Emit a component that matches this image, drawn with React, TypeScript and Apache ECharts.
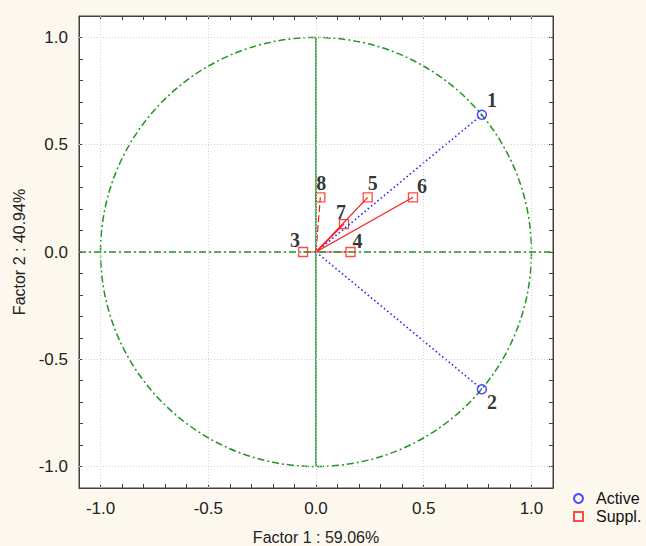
import React, { useEffect, useRef } from "react";
import * as echarts from "echarts";

const activeNames = ["1", "2"];
const activeX = [0.77, 0.77];
const activeY = [0.64, -0.64];

const supplNames = ["3", "4", "5", "6", "7", "8"];
const supplX = [-0.06, 0.16, 0.24, 0.45, 0.13, 0.02];
const supplY = [0.0, 0.0, 0.255, 0.255, 0.13, 0.255];

const majorTicks = [-1.0, -0.5, 0.0, 0.5, 1.0];
const minorTicks = [-1.0, -0.9, -0.8, -0.7, -0.6, -0.5, -0.4, -0.3, -0.2, -0.1, 0.0, 0.1, 0.2, 0.3, 0.4, 0.5, 0.6, 0.7, 0.8, 0.9, 1.0];

const xTitle = "Factor 1 : 59.06%";
const yTitle = "Factor 2 : 40.94%";

// styling (not data)
const activeLabelOffsets = [[10, -15], [10, 13]];
const supplLabelOffsets = [[-8, -12], [7, -11], [5, -14], [9, -11], [-3, -12], [1, -14]];
const supplLineTypes: any[] = ["solid", "solid", "solid", "solid", "solid", [7, 3]];

const GREEN = "#1f961f";
const FRAME = "#404040";
const SANS = "Liberation Sans, Arial, sans-serif";
const SERIF = "Liberation Serif, Times New Roman, serif";

export default function App() {
  const ref = useRef<HTMLDivElement>(null);
  useEffect(() => {
    if (!ref.current) return;
    const chart = echarts.init(ref.current, undefined, { renderer: "svg" });

    const axisCommon = {
      type: "value" as const,
      min: -1.1,
      max: 1.1,
      axisLine: { show: true, onZero: false, lineStyle: { color: FRAME, width: 1 } },
      axisTick: { show: true, inside: true, length: 4, customValues: minorTicks, lineStyle: { color: FRAME } },
      splitLine: { show: false },
    };

    const labelStyle = (offsets: number[][], i: number) => ({
      show: true,
      position: "inside",
      offset: offsets[i],
      formatter: "{b}",
      fontFamily: SERIF,
      fontWeight: "bold",
      fontSize: 20,
      color: "#000",
    });

    const series: any[] = [];

    // grid lines + green horizontal axis
    series.push({
      type: "line",
      data: [],
      silent: true,
      markLine: {
        silent: true,
        symbol: "none",
        label: { show: false },
        lineStyle: { color: "#d0d0d0", type: [1, 2], width: 1 },
        data: [
          ...majorTicks.map((v) => ({ xAxis: v })),
          ...majorTicks.map((v) => ({ yAxis: v })),
        ],
      },
    });
    series.push({
      type: "line",
      data: [],
      silent: true,
      markLine: {
        silent: true,
        symbol: "none",
        label: { show: false },
        lineStyle: { color: GREEN, type: [7, 3, 2, 3], width: 1.5 },
        data: [{ yAxis: 0 }],
      },
    });
    // vertical green line
    series.push({
      type: "line",
      data: [[0, -1], [0, 1]],
      showSymbol: false,
      silent: true,
      lineStyle: { color: GREEN, width: 1.5 },
    });
    // unit circle
    series.push({
      type: "custom",
      silent: true,
      clip: false,
      data: [[0, 0, 1]],
      renderItem: (params: any, api: any) => {
        const c = api.coord([api.value(0), api.value(1)]);
        const s = api.size([api.value(2), api.value(2)]);
        return {
          type: "ellipse",
          shape: { cx: c[0], cy: c[1], rx: s[0], ry: s[1] },
          style: { fill: "none", stroke: GREEN, lineWidth: 1.5, lineDash: [7, 3, 2, 3] },
        };
      },
    });

    // vectors
    activeX.forEach((x, i) => {
      series.push({
        type: "line",
        data: [[0, 0], [x, activeY[i]]],
        showSymbol: false,
        silent: true,
        lineStyle: { color: "#2b2bff", width: 1.6, type: [1.6, 2.6] },
      });
    });
    supplX.forEach((x, i) => {
      series.push({
        type: "line",
        data: [[0, 0], [x, supplY[i]]],
        showSymbol: false,
        silent: true,
        lineStyle: { color: "#ff1a1a", width: 1.2, type: supplLineTypes[i] },
      });
    });

    series.push({
      name: "Active",
      type: "scatter",
      symbol: "circle",
      symbolSize: 9,
      itemStyle: { color: "rgba(255,255,255,0)", borderColor: "#1a1aff", borderWidth: 1.5 },
      data: activeX.map((x, i) => ({
        name: activeNames[i],
        value: [x, activeY[i]],
        label: labelStyle(activeLabelOffsets, i),
      })),
    });
    series.push({
      name: "Suppl.",
      type: "scatter",
      symbol: "rect",
      symbolSize: 9,
      itemStyle: { color: "rgba(255,255,255,0)", borderColor: "#ff1a1a", borderWidth: 1.3 },
      data: supplX.map((x, i) => ({
        name: supplNames[i],
        value: [x, supplY[i]],
        label: labelStyle(supplLabelOffsets, i),
      })),
    });

    chart.setOption({
      animation: false,
      backgroundColor: "#fdf8ee",
      grid: {
        left: 79,
        top: 16,
        right: 93,
        bottom: 58,
        outerBoundsMode: "none",
        containLabel: false,
        show: true,
        backgroundColor: "#ffffff",
        borderColor: FRAME,
        borderWidth: 1,
      },
      legend: {
        data: ["Active", "Suppl."],
        orient: "vertical",
        left: 568,
        top: 485,
        itemWidth: 9,
        itemHeight: 9,
        itemGap: 1,
        textStyle: { fontFamily: SANS, fontSize: 16, lineHeight: 17, color: "#111", padding: [0, 0, 0, 8] },
      },
      xAxis: [
        {
          ...axisCommon,
          position: "bottom",
          name: xTitle,
          nameLocation: "middle",
          nameGap: 41,
          nameTextStyle: { fontFamily: SANS, fontSize: 16, lineHeight: 16, color: "#222" },
          axisLabel: {
            show: true,
            customValues: majorTicks,
            formatter: (v: number) => v.toFixed(1),
            margin: 12,
            fontFamily: SANS,
            fontSize: 17,
            color: "#222",
          },
        },
        { ...axisCommon, position: "top", axisLabel: { show: false } },
      ],
      yAxis: [
        {
          ...axisCommon,
          position: "left",
          name: yTitle,
          nameLocation: "middle",
          nameGap: 52,
          nameTextStyle: { fontFamily: SANS, fontSize: 16, color: "#222" },
          axisLabel: {
            show: true,
            customValues: majorTicks,
            formatter: (v: number) => v.toFixed(1),
            margin: 11,
            fontFamily: SANS,
            fontSize: 17,
            color: "#222",
          },
        },
        { ...axisCommon, position: "right", axisLabel: { show: false } },
      ],
      series,
    });
    return () => chart.dispose();
  }, []);
  return (
    <div
      ref={ref}
      style={{ position: "fixed", left: 0, top: 0, width: 646, height: 546 }}
    />
  );
}
